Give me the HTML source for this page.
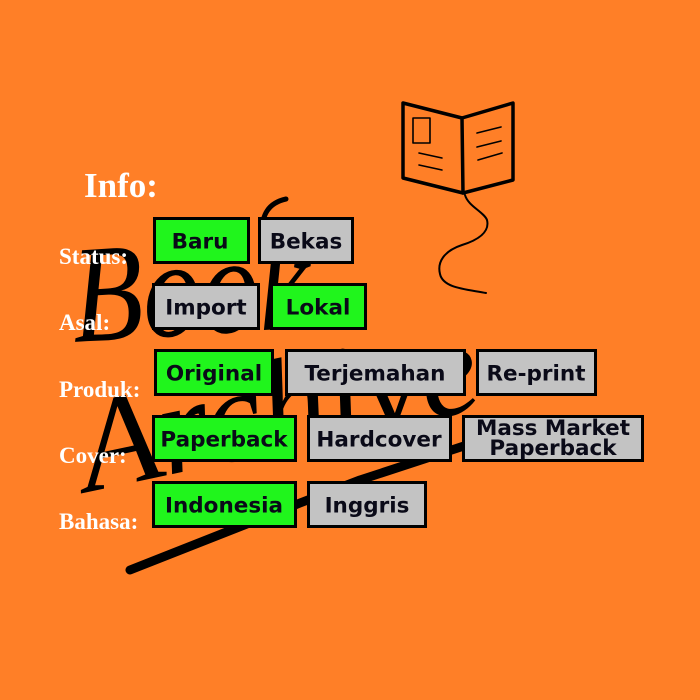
<!DOCTYPE html>
<html>
<head>
<meta charset="utf-8">
<style>
  html,body{margin:0;padding:0;background:#FF7F27;}
  svg{display:block;}
  .lbl{font-family:"Liberation Serif",serif;font-weight:bold;fill:#fff;}
  .btn{font-family:"DejaVu Sans","Liberation Sans",sans-serif;font-weight:bold;font-size:21.5px;fill:#0a0a18;}
  .script{font-family:"Liberation Serif",serif;font-style:italic;fill:#000;}
</style>
</head>
<body>
<svg width="700" height="700" viewBox="0 0 700 700" xmlns="http://www.w3.org/2000/svg">
  <rect x="0" y="0" width="700" height="700" fill="#FF7F27"/>

  <!-- background script "Book Archive" -->
  <g transform="translate(74 342) scale(1 1.2) rotate(-3)">
    <text class="script" x="0" y="0" font-size="116">Book</text>
  </g>
  <path d="M262 232 C262 215 268 203 286 199" stroke="#000" stroke-width="5" fill="none" stroke-linecap="round"/>
  <g transform="translate(88 492) rotate(-12)">
    <text class="script" x="0" y="0" font-size="132">Archive</text>
  </g>
  <!-- underline stroke -->
  <path d="M130 570 L300 503 L360 480 L470 444 L500 434" stroke="#000" stroke-width="9" fill="none" stroke-linecap="round" stroke-linejoin="round"/>

  <!-- book icon -->
  <g stroke="#000" fill="none" stroke-linejoin="round" stroke-linecap="round">
    <path d="M403 103 L462 118 L513 103 L513 180 L463 193 L403 178 Z" stroke-width="3.5"/>
    <path d="M462 118 L463 193" stroke-width="3.5"/>
    <rect x="413" y="118" width="17" height="25" stroke-width="1.6"/>
    <path d="M419 153 L442 158 M419 165 L442 170" stroke-width="1.6"/>
    <path d="M477 133 L501 127 M477 147 L501 141 M478 160 L502 153" stroke-width="1.6"/>
    <path d="M465 195 C468 206 484 212 487 220 C490 232 478 240 462 245 C444 251 437 262 440 274 C443 288 465 289 486 293" stroke-width="2"/>
  </g>

  <!-- labels -->
  <text class="lbl" x="84" y="197" font-size="35">Info:</text>
  <text class="lbl" x="59" y="264" font-size="23">Status:</text>
  <text class="lbl" x="59" y="330" font-size="23">Asal:</text>
  <text class="lbl" x="59" y="397" font-size="23">Produk:</text>
  <text class="lbl" x="59" y="463" font-size="23">Cover:</text>
  <text class="lbl" x="59" y="529" font-size="23">Bahasa:</text>

  <!-- buttons -->
  <g stroke="#000" stroke-width="3">
    <rect x="154.5" y="218.5" width="94" height="44" fill="#20F51C"/>
    <rect x="259.5" y="218.5" width="93" height="44" fill="#C3C3C3"/>
    <rect x="153.5" y="284.5" width="105" height="44" fill="#C3C3C3"/>
    <rect x="271.5" y="284.5" width="94" height="44" fill="#20F51C"/>
    <rect x="155.5" y="350.5" width="117" height="44" fill="#20F51C"/>
    <rect x="286.5" y="350.5" width="178" height="44" fill="#C3C3C3"/>
    <rect x="477.5" y="350.5" width="118" height="44" fill="#C3C3C3"/>
    <rect x="153.5" y="416.5" width="142" height="44" fill="#20F51C"/>
    <rect x="308.5" y="416.5" width="142" height="44" fill="#C3C3C3"/>
    <rect x="463.5" y="416.5" width="179" height="44" fill="#C3C3C3"/>
    <rect x="153.5" y="482.5" width="142" height="44" fill="#20F51C"/>
    <rect x="308.5" y="482.5" width="117" height="44" fill="#C3C3C3"/>
  </g>
  <g class="btn" text-anchor="middle">
    <text x="200" y="248.5">Baru</text>
    <text x="306" y="248.5">Bekas</text>
    <text x="206" y="314.5">Import</text>
    <text x="318" y="314.5">Lokal</text>
    <text x="214" y="380.5">Original</text>
    <text x="375" y="380.5">Terjemahan</text>
    <text x="536" y="380.5">Re-print</text>
    <text x="224" y="446.5">Paperback</text>
    <text x="379" y="446.5">Hardcover</text>
    <text x="553" y="435">Mass Market</text>
    <text x="553" y="455">Paperback</text>
    <text x="224" y="512.5">Indonesia</text>
    <text x="367" y="512.5">Inggris</text>
  </g>
</svg>
</body>
</html>
